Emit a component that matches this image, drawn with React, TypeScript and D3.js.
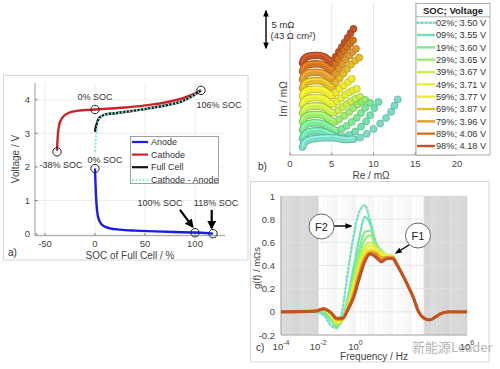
import React from 'react';
import * as d3 from 'd3';

const FONT = "'Liberation Sans', Arial, Helvetica, sans-serif";

// ---------------- Panel a: half-cell voltages vs SOC ----------------
const SOC_TICKS = [-50, 0, 50, 100];
const VOLT_TICKS = [0, 1, 2, 3, 4];
const ANODE: [number, number][] = [
  [0, 1.95], [0.4, 1.6], [0.9, 1.2], [1.5, 0.9], [2.5, 0.6], [4, 0.42], [6, 0.31], [9, 0.23],
  [15, 0.17], [25, 0.13], [40, 0.1], [60, 0.08], [80, 0.06], [100, 0.045], [110, 0.03], [118, 0.01],
];
const CATHODE: [number, number][] = [
  [-38, 2.48], [-37.6, 2.75], [-37, 3.0], [-36, 3.22], [-34, 3.4], [-31, 3.52], [-27, 3.6], [-22, 3.65],
  [-15, 3.68], [-5, 3.7], [0, 3.71], [15, 3.74], [30, 3.77], [45, 3.81], [60, 3.87], [75, 3.95],
  [88, 4.05], [98, 4.16], [106, 4.28],
];
const FULL_CELL: [number, number][] = [
  [0, 3.05], [1, 3.2], [2.5, 3.35], [4, 3.45], [7, 3.52], [12, 3.57], [20, 3.6], [35, 3.66],
  [55, 3.75], [70, 3.83], [88, 3.97], [98, 4.12], [106, 4.28],
];
const CATHODE_MINUS_ANODE: [number, number][] = [
  [0, 2.45], [0.8, 2.75], [1.6, 3.0], [2.6, 3.25], [4, 3.43], [7, 3.52], [12, 3.57], [20, 3.6],
  [35, 3.66], [55, 3.75], [70, 3.83], [88, 3.97], [98, 4.12], [106, 4.28],
];
const SOC_MARKERS: [number, number][] = [[-38, 2.45], [0, 3.71], [106, 4.28], [0, 1.95], [100, 0.04], [118, 0.01]];
const SOC_LABELS: { text: string; soc: number; v: number }[] = [
  { text: '0% SOC', soc: 0, v: 4.0 },
  { text: '106% SOC', soc: 124, v: 3.76 },
  { text: '-38% SOC', soc: -34, v: 1.97 },
  { text: '0% SOC', soc: 10, v: 2.12 },
  { text: '100% SOC', soc: 65, v: 0.84 },
  { text: '118% SOC', soc: 121, v: 0.84 },
];
const SOC_ARROWS: [number, number, number, number][] = [[85, 0.72, 97.5, 0.22], [116.7, 0.72, 116.7, 0.18]];
const LEGEND_A = ['Anode', 'Cathode', 'Full Cell', 'Cathode - Anode'];

// ---------------- Panel b: Nyquist plots ----------------
const RE_TICKS = [0, 5, 10, 15, 20];
const SOC_LEVELS = ['02%', '09%', '19%', '29%', '39%', '49%', '59%', '69%', '79%', '89%', '98%'];
const VOLTAGES = ['3.50', '3.55', '3.60', '3.65', '3.67', '3.71', '3.77', '3.87', '3.96', '4.06', '4.18'];
const SERIES_COLORS = ['#7cdcc6', '#72e2b0', '#7ee995', '#9dec6e', '#c8ef4e', '#e6f03a', '#f2ea2e', '#e6bd28', '#e29a30', '#d3741f', '#bf522a'];
const IM_STACK_STEP = 1.08; // vertical stacking of spectra (mΩ)
const IM_BASE = 1.03;
const NYQ_ARC: [number, number][][] = [
  [[1.5, 0], [1.7, 0.5], [2.1, 0.85], [2.8, 1.05], [3.6, 1.15], [4.4, 1.2], [5.2, 1.18], [6.0, 1.05], [6.8, 0.95]],
  [[1.5, 0], [1.7, 0.45], [2.0, 0.75], [2.6, 0.95], [3.3, 1.0], [4.0, 0.9], [4.6, 0.62], [5.2, 0.35], [5.8, 0.2]],
  [[1.5, 0], [1.65, 0.42], [1.9, 0.7], [2.4, 0.88], [3.0, 0.95], [3.6, 0.9], [4.1, 0.74], [4.6, 0.42], [5.1, 0.1]],
  [[1.5, 0], [1.65, 0.42], [1.9, 0.7], [2.4, 0.88], [3.0, 0.94], [3.6, 0.9], [4.1, 0.74], [4.5, 0.46], [4.95, 0.1]],
  [[1.5, 0], [1.65, 0.42], [1.9, 0.7], [2.4, 0.88], [3.0, 0.94], [3.6, 0.9], [4.1, 0.74], [4.5, 0.45], [4.9, 0.12]],
  [[1.5, 0], [1.65, 0.42], [1.9, 0.7], [2.4, 0.88], [3.0, 0.94], [3.6, 0.9], [4.1, 0.74], [4.5, 0.45], [4.85, 0.15]],
  [[1.5, 0], [1.65, 0.42], [1.9, 0.7], [2.4, 0.88], [3.0, 0.94], [3.6, 0.9], [4.1, 0.74], [4.5, 0.45], [4.85, 0.15]],
  [[1.5, 0], [1.65, 0.42], [1.9, 0.7], [2.4, 0.88], [3.0, 0.94], [3.6, 0.9], [4.1, 0.74], [4.5, 0.45], [4.85, 0.12]],
  [[1.5, 0], [1.65, 0.42], [1.9, 0.7], [2.4, 0.88], [3.0, 0.94], [3.6, 0.9], [4.1, 0.74], [4.5, 0.45], [4.85, 0.12]],
  [[1.5, 0], [1.65, 0.42], [1.9, 0.7], [2.4, 0.88], [3.0, 0.94], [3.6, 0.9], [4.1, 0.74], [4.5, 0.45], [4.85, 0.1]],
  [[1.5, 0], [1.65, 0.42], [1.9, 0.7], [2.4, 0.88], [3.0, 0.94], [3.6, 0.9], [4.1, 0.74], [4.5, 0.45], [4.85, 0.1]],
];
const NYQ_TAIL: [number, number][][] = [
  [[7.6, 1.0], [8.4, 1.2], [9.2, 1.7], [10.0, 2.3], [10.8, 3.0], [11.5, 3.7], [12.1, 4.5], [12.5, 5.3], [12.9, 6.1]],
  [[6.4, 0.2], [7.1, 0.45], [7.8, 0.9], [8.5, 1.5], [9.1, 2.2], [9.6, 3.0], [10.1, 3.9], [10.6, 4.7]],
  [[5.6, -0.05], [6.2, 0.15], [6.8, 0.55], [7.4, 1.05], [8.0, 1.6], [8.5, 2.2], [9.0, 2.85], [9.6, 3.5]],
  [[5.4, 0.0], [5.9, 0.3], [6.5, 0.75], [7.1, 1.25], [7.6, 1.75], [8.1, 2.2], [8.6, 2.55], [9.0, 2.8]],
  [[5.3, 0.05], [5.8, 0.4], [6.3, 0.8], [6.8, 1.2], [7.3, 1.55], [7.85, 1.85], [8.4, 2.1]],
  [[5.2, 0.1], [5.65, 0.45], [6.1, 0.85], [6.6, 1.25], [7.1, 1.6], [7.55, 1.85], [8.0, 2.05]],
  [[5.1, 0.15], [5.5, 0.5], [5.95, 0.95], [6.45, 1.4], [6.95, 1.85], [7.4, 2.25]],
  [[5.1, 0.2], [5.5, 0.7], [5.95, 1.25], [6.4, 1.85], [6.85, 2.45], [7.3, 3.0], [7.8, 3.5], [8.3, 3.9]],
  [[5.1, 0.25], [5.5, 0.8], [5.9, 1.4], [6.3, 2.0], [6.7, 2.6], [7.1, 3.1], [7.5, 3.55], [7.9, 3.95]],
  [[5.1, 0.3], [5.45, 0.9], [5.8, 1.5], [6.15, 2.1], [6.5, 2.6], [6.85, 3.1], [7.2, 3.55], [7.55, 3.95]],
  [[5.15, 0.3], [5.5, 0.8], [5.85, 1.4], [6.2, 2.0], [6.55, 2.6], [6.9, 3.2], [7.25, 3.8], [7.6, 4.35]],
];

// ---------------- Panel c: distribution of relaxation times ----------------
const G_TICKS = [-0.2, 0, 0.2, 0.4, 0.6, 0.8, 1];
const FREQ_LABEL_EXP = [-4, -2, 0, 6];
const LOG_FREQ = [-4, -2.2, -1.7, -1.3, -1.0, -0.7, -0.4, -0.1, 0.2, 0.5, 0.8, 1.1, 1.4, 1.7, 2.0, 2.25, 2.5, 2.9, 3.1, 3.4, 3.7, 4.0, 4.3, 4.6, 5.0, 6.0];
const DRT: number[][] = [
  [0, 0, -0.03, -0.12, -0.14, 0.02, 0.35, 0.65, 0.86, 0.92, 0.78, 0.6, 0.53, 0.49, 0.48, 0.41, 0.33, 0.2, 0.13, 0.0, -0.055, -0.07, -0.045, -0.015, 0, 0],
  [0, 0.01, -0.01, -0.08, -0.13, -0.06, 0.13, 0.38, 0.63, 0.82, 0.76, 0.59, 0.52, 0.49, 0.48, 0.41, 0.33, 0.2, 0.13, 0.0, -0.055, -0.07, -0.045, -0.015, 0, 0],
  [0, 0.01, 0, -0.07, -0.12, -0.07, 0.1, 0.32, 0.53, 0.69, 0.7, 0.58, 0.52, 0.49, 0.48, 0.41, 0.33, 0.2, 0.13, 0.0, -0.055, -0.07, -0.045, -0.015, 0, 0],
  [0, 0.01, 0.01, -0.05, -0.11, -0.07, 0.08, 0.28, 0.47, 0.62, 0.66, 0.57, 0.52, 0.49, 0.48, 0.41, 0.33, 0.2, 0.13, 0.0, -0.055, -0.07, -0.045, -0.015, 0, 0],
  [0, 0.01, 0.015, -0.04, -0.1, -0.07, 0.06, 0.25, 0.43, 0.56, 0.6, 0.56, 0.52, 0.49, 0.48, 0.41, 0.33, 0.2, 0.13, 0.0, -0.055, -0.07, -0.045, -0.015, 0, 0],
  [0, 0.01, 0.02, -0.03, -0.09, -0.07, 0.05, 0.22, 0.4, 0.52, 0.57, 0.55, 0.51, 0.49, 0.48, 0.41, 0.33, 0.2, 0.13, 0.0, -0.055, -0.07, -0.045, -0.015, 0, 0],
  [0, 0.01, 0.02, -0.02, -0.08, -0.07, 0.04, 0.2, 0.37, 0.49, 0.54, 0.53, 0.49, 0.48, 0.48, 0.41, 0.33, 0.2, 0.13, 0.0, -0.055, -0.07, -0.045, -0.015, 0, 0],
  [0, 0.005, 0.025, -0.01, -0.065, -0.065, 0.03, 0.16, 0.34, 0.47, 0.52, 0.51, 0.47, 0.47, 0.47, 0.41, 0.33, 0.2, 0.13, 0.0, -0.055, -0.07, -0.045, -0.015, 0, 0],
  [0, 0.005, 0.025, -0.01, -0.06, -0.06, 0.025, 0.14, 0.31, 0.45, 0.51, 0.5, 0.45, 0.47, 0.47, 0.41, 0.33, 0.2, 0.13, 0.0, -0.055, -0.07, -0.045, -0.015, 0, 0],
  [0, 0.005, 0.025, -0.01, -0.06, -0.06, 0.02, 0.13, 0.3, 0.44, 0.5, 0.48, 0.44, 0.46, 0.46, 0.4, 0.33, 0.2, 0.13, 0.0, -0.055, -0.07, -0.045, -0.015, 0, 0],
  [0, 0.005, 0.025, -0.01, -0.055, -0.055, 0.02, 0.12, 0.28, 0.43, 0.5, 0.47, 0.43, 0.46, 0.46, 0.4, 0.33, 0.2, 0.13, 0.0, -0.055, -0.07, -0.045, -0.015, 0, 0],
];
const GRAY_BANDS: [number, number][] = [[1e-4, 1e-2], [5e3, 1e6]];

export default function App() {
  // ---- scales ----
  const xa = d3.scaleLinear().domain([-60, 130]).range([35, 225]);
  const ya = d3.scaleLinear().domain([-0.05, 4.5]).range([235.7, 83]);
  const lineA = d3.line<[number, number]>().x(d => xa(d[0])).y(d => ya(d[1])).curve(d3.curveMonotoneX);

  const xb = d3.scaleLinear().domain([0, 20]).range([290, 457]);
  const yb = d3.scaleLinear().domain([0, 20]).range([155, -1]);
  const lineB = d3.line<[number, number]>().x(d => xb(d[0])).y(d => yb(d[1])).curve(d3.curveCatmullRom.alpha(0.5));

  const xc = d3.scaleLog().domain([1e-4, 1e6]).range([281, 467]);
  const yc = d3.scaleLinear().domain([-0.2, 1]).range([335, 196]);
  const lineC = d3.line<number>().x((_, i) => xc(Math.pow(10, LOG_FREQ[i]))).y(d => yc(d)).curve(d3.curveMonotoneX);

  const aColors = ['#1c1ce0', '#c8242a', '#111111', '#7ff0de'];

  // minor log grid for panel c
  const minor: number[] = [];
  for (let e = -4; e < 6; e++) for (let k = 1; k <= 9; k++) minor.push(k * Math.pow(10, e));
  minor.push(1e6);
  const inGray = (v: number) => GRAY_BANDS.some(([a, b]) => v >= a - 1e-12 && v <= b);

  const legendBy = (k: number) => 22.7 + k * 12.33;
  const order = d3.range(SOC_LEVELS.length).reverse();

  return (
    <svg width={500} height={369} style={{ position: 'absolute', left: 0, top: 0, background: '#fff' }} fontFamily={FONT}>
      <defs>
        <marker id="ah" viewBox="0 0 10 10" refX="8" refY="5" markerWidth="4" markerHeight="4" orient="auto-start-reverse">
          <path d="M0,0 L10,5 L0,10 z" fill="#000" />
        </marker>
        <marker id="ahs" viewBox="0 0 10 10" refX="8" refY="5" markerWidth="5" markerHeight="5" orient="auto-start-reverse">
          <path d="M0,1 L10,5 L0,9 z" fill="#000" />
        </marker>
      </defs>
      <rect x={0} y={0} width={500} height={369} fill="#fff" />

      {/* ================= Panel a ================= */}
      <rect x={3.5} y={75.5} width={244.5} height={184.5} fill="#fff" stroke="#d6d6d6" />
      {SOC_TICKS.map(t => (
        <line key={'ga' + t} x1={xa(t)} x2={xa(t)} y1={ya(4.5)} y2={ya(-0.05)} stroke="#ececec" />
      ))}
      {VOLT_TICKS.map(t => (
        <line key={'gy' + t} x1={xa(-60)} x2={xa(130)} y1={ya(t)} y2={ya(t)} stroke="#ececec" />
      ))}
      <line x1={xa(-60)} x2={xa(-60)} y1={ya(4.5)} y2={ya(-0.05)} stroke="#9a9a9a" />
      <line x1={xa(-60)} x2={xa(130)} y1={ya(-0.05)} y2={ya(-0.05)} stroke="#9a9a9a" />
      {SOC_TICKS.map(t => (
        <g key={'xa' + t}>
          <line x1={xa(t)} x2={xa(t)} y1={ya(-0.05)} y2={ya(-0.05) - 2.5} stroke="#777" />
          <text x={xa(t)} y={247} fontSize={9.5} textAnchor="middle" fill="#444">{t}</text>
        </g>
      ))}
      {VOLT_TICKS.map(t => (
        <g key={'ya' + t}>
          <line x1={xa(-60)} x2={xa(-60) + 2.5} y1={ya(t)} y2={ya(t)} stroke="#777" />
          <text x={30} y={ya(t) + 3.4} fontSize={9.5} textAnchor="end" fill="#444">{t}</text>
        </g>
      ))}
      <text x={130} y={258.5} fontSize={10} textAnchor="middle" fill="#444">SOC of Full Cell / %</text>
      <text transform={`translate(19,${159}) rotate(-90)`} fontSize={10} textAnchor="middle" fill="#444">Voltage / V</text>
      <text x={8} y={256} fontSize={10} fill="#333">a)</text>

      <path d={lineA(CATHODE) || ''} fill="none" stroke={aColors[1]} strokeWidth={2.4} />
      <path d={lineA(ANODE) || ''} fill="none" stroke={aColors[0]} strokeWidth={2.4} />
      <path d={lineA(FULL_CELL) || ''} fill="none" stroke={aColors[2]} strokeWidth={2.4} />
      <path d={lineA(CATHODE_MINUS_ANODE) || ''} fill="none" stroke={aColors[3]} strokeWidth={2.2} strokeDasharray="1.6,2" />
      {SOC_MARKERS.map((m, i) => (
        <circle key={'m' + i} cx={xa(m[0])} cy={ya(m[1])} r={4.2} fill="none" stroke="#222" strokeWidth={1} />
      ))}
      {SOC_LABELS.map((l, i) => (
        <text key={'l' + i} x={xa(l.soc)} y={ya(l.v)} fontSize={9} textAnchor="middle" fill="#333">{l.text}</text>
      ))}
      {SOC_ARROWS.map((a, i) => (
        <line key={'ar' + i} x1={xa(a[0])} y1={ya(a[1])} x2={xa(a[2])} y2={ya(a[3])} stroke="#000" strokeWidth={2.2} markerEnd="url(#ah)" />
      ))}
      {/* legend a */}
      <rect x={130.5} y={136.5} width={88} height={47} fill="#fff" stroke="#8a8a8a" strokeWidth={0.8} />
      {LEGEND_A.map((name, k) => {
        const cy = 142 + k * 12.6;
        return (
          <g key={'la' + k}>
            <line x1={132} x2={148} y1={cy} y2={cy} stroke={aColors[k]} strokeWidth={2.2} strokeDasharray={k === 3 ? '1.6,2' : undefined} />
            <text x={151} y={cy + 3.2} fontSize={9} fill="#333">{name}</text>
          </g>
        );
      })}

      {/* ================= Panel b ================= */}
      {[5, 10, 15].map(t => (
        <line key={'gb' + t} x1={xb(t)} x2={xb(t)} y1={2} y2={155} stroke="#e6e6e6" />
      ))}
      <line x1={xb(0)} x2={xb(0)} y1={20} y2={155} stroke="#c8c8c8" />
      <line x1={xb(0)} x2={xb(20)} y1={155} y2={155} stroke="#aaa" />
      {RE_TICKS.map(t => (
        <g key={'xb' + t}>
          <line x1={xb(t)} x2={xb(t)} y1={155} y2={152.5} stroke="#888" />
          <text x={xb(t)} y={167} fontSize={9.5} textAnchor="middle" fill="#444">{t}</text>
        </g>
      ))}
      <text x={371} y={179} fontSize={10} textAnchor="middle" fill="#444">Re / mΩ</text>
      <text transform={`translate(286.5,99) rotate(-90)`} fontSize={10} textAnchor="middle" fill="#444">Im / mΩ</text>
      <text x={258} y={170} fontSize={10} fill="#333">b)</text>
      {/* scale bar */}
      <line x1={266} x2={266} y1={11} y2={48} stroke="#000" strokeWidth={1.4} markerStart="url(#ahs)" markerEnd="url(#ahs)" />
      <text x={271.5} y={28} fontSize={9.5} fill="#333">5 mΩ</text>
      <text x={270.5} y={38.5} fontSize={9.5} fill="#333">(43 Ω cm²)</text>

      {order.map(i => {
        const base = IM_BASE + i * IM_STACK_STEP;
        const arc = NYQ_ARC[i].map(p => [p[0], p[1] + base] as [number, number]);
        const tail = NYQ_TAIL[i].map(p => [p[0], p[1] + base] as [number, number]);
        const col = SERIES_COLORS[i];
        const dark = d3.color(col)!.darker(0.7).formatHex();
        const light = d3.color(col)!.brighter(0.6).formatHex();
        const tube = lineB(arc.concat([tail[0]])) || '';
        return (
          <g key={'nb' + i}>
            <path d={tube} fill="none" stroke={dark} strokeWidth={7.4} strokeLinecap="round" />
            <path d={tube} fill="none" stroke={col} strokeWidth={5.8} strokeLinecap="round" />
            <path d={tube} fill="none" stroke={light} strokeWidth={1.2} strokeLinecap="round" transform="translate(0,-1.5)" opacity={0.8} />
            {tail.slice(1).map((p, j) => (
              <circle key={j} cx={xb(p[0])} cy={yb(p[1])} r={3.5} fill={col} stroke={dark} strokeWidth={0.7} />
            ))}
          </g>
        );
      })}

      {/* legend b */}
      <rect x={416} y={3.5} width={74} height={151.5} fill="#fff" stroke="#9a9a9a" strokeWidth={0.8} />
      <text x={453} y={14} fontSize={9.5} fontWeight="bold" textAnchor="middle" fill="#222">SOC; Voltage</text>
      <line x1={416} x2={490} y1={16.8} y2={16.8} stroke="#9a9a9a" strokeWidth={0.8} />
      {SOC_LEVELS.map((s, k) => (
        <g key={'lb' + k}>
          <line x1={417} x2={435} y1={legendBy(k)} y2={legendBy(k)} stroke={SERIES_COLORS[k]} strokeWidth={2.4}
            strokeDasharray={k === 0 ? '1.6,2.6' : undefined} strokeLinecap={k === 0 ? 'round' : 'butt'} />
          <text x={436} y={legendBy(k) + 3.3} fontSize={9.2} fill="#333">{`${s}; ${VOLTAGES[k]} V`}</text>
        </g>
      ))}

      {/* ================= Panel c ================= */}
      <rect x={250.5} y={181.5} width={238.5} height={180.5} fill="#fff" stroke="#d6d6d6" />
      {GRAY_BANDS.map((b, k) => (
        <rect key={'gr' + k} x={xc(b[0])} y={yc(1)} width={xc(b[1]) - xc(b[0])} height={yc(-0.2) - yc(1)} fill="#dcdcdc" />
      ))}
      {minor.map((v, k) => (
        <line key={'mg' + k} x1={xc(v)} x2={xc(v)} y1={yc(1)} y2={yc(-0.2)} stroke={inGray(v) ? '#d3d3d3' : '#efefef'} strokeWidth={0.7} />
      ))}
      {G_TICKS.map(t => (
        <line key={'hg' + t} x1={xc(1e-4)} x2={xc(1e6)} y1={yc(t)} y2={yc(t)} stroke="#e2e2e2" strokeWidth={0.8} />
      ))}
      <line x1={xc(1e-4)} x2={xc(1e-4)} y1={yc(1)} y2={yc(-0.2)} stroke="#aaa" />
      <line x1={xc(1e-4)} x2={xc(1e6)} y1={yc(-0.2)} y2={yc(-0.2)} stroke="#aaa" />
      {G_TICKS.map(t => (
        <text key={'yc' + t} x={275} y={yc(t) + 3.5} fontSize={9.5} textAnchor="end" fill="#444">{t}</text>
      ))}
      {FREQ_LABEL_EXP.map(e => (
        <text key={'xc' + e} x={xc(Math.pow(10, e))} y={350} fontSize={9.5} textAnchor="middle" fill="#444">
          <tspan>10</tspan>
          <tspan dy={-5} fontSize={7}>{e}</tspan>
        </text>
      ))}
      <text x={374} y={360} fontSize={10} textAnchor="middle" fill="#444">Frequency / Hz</text>
      <text transform={`translate(260,268) rotate(-90)`} fontSize={9.5} textAnchor="middle" fill="#444">g(f) / mΩs</text>
      <text x={256} y={351} fontSize={10} fill="#333">c)</text>

      {DRT.map((series, i) => (
        <path key={'dc' + i} d={lineC(series) || ''} fill="none" stroke={SERIES_COLORS[i]}
          strokeWidth={i === 0 ? 2.4 : i >= 7 ? 2.8 : 2.2}
          strokeDasharray={i === 0 ? '1.5,2.6' : undefined} strokeLinecap={i === 0 ? 'round' : 'butt'} />
      ))}

      {/* annotations F2 / F1 */}
      <line x1={334} y1={226} x2={351} y2={226} stroke="#000" strokeWidth={1.4} markerEnd="url(#ahs)" />
      <circle cx={321.5} cy={226.5} r={12.5} fill="#fff" stroke="#666" strokeWidth={1} />
      <text x={321.5} y={230.5} fontSize={11} textAnchor="middle" fill="#222">F2</text>
      <line x1={409} y1={245} x2={396} y2={253} stroke="#000" strokeWidth={1.4} markerEnd="url(#ahs)" />
      <circle cx={418} cy={235.5} r={12.5} fill="#fff" stroke="#666" strokeWidth={1} />
      <text x={418} y={239.5} fontSize={11} textAnchor="middle" fill="#222">F1</text>

      {/* watermark */}
      <text x={412} y={352} fontSize={13} fill="#a8a8a8" fontFamily="'Noto Sans CJK SC', sans-serif" opacity={0.85}>新能源Leader</text>
    </svg>
  );
}
